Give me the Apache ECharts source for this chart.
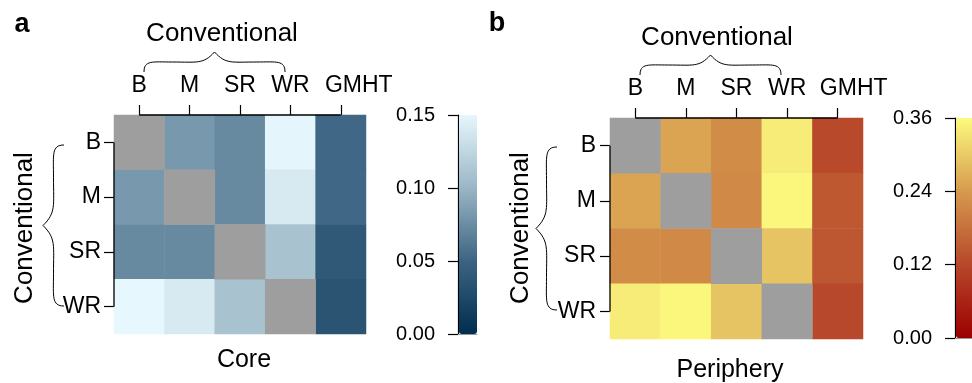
<!DOCTYPE html>
<html>
<head>
<meta charset="utf-8">
<script src="https://cdn.jsdelivr.net/npm/echarts@6/dist/echarts.min.js"></script>
<style>
  html, body { margin: 0; padding: 0; background: #fff; }
  #chart { width: 972px; height: 383px; }
</style>
</head>
<body>
<div id="chart"></div>
<script>
// Pairwise values between groups; null marks the undefined diagonal.
const columns = ['B', 'M', 'SR', 'WR', 'GMHT'];
const rows = ['B', 'M', 'SR', 'WR'];
const coreValues = [
  [null, 0.082, 0.073, 0.149, 0.052],
  [0.082, null, 0.073, 0.140, 0.052],
  [0.073, 0.073, null, 0.109, 0.040],
  [0.150, 0.140, 0.109, null, 0.035]
];
const peripheryValues = [
  [null, 0.252, 0.220, 0.342, 0.125],
  [0.252, null, 0.215, 0.355, 0.144],
  [0.220, 0.215, null, 0.292, 0.143],
  [0.342, 0.355, 0.292, null, 0.122]
];
const coreScale = { min: 0, max: 0.15, step: 0.05 };
const peripheryScale = { min: 0, max: 0.36, step: 0.12 };
const coreColors = ['#002e4e', '#3c6482', '#9ab6c5', '#e6f7fd'];
const peripheryColors = ['#9b0000', '#b7472a', '#d69a4e', '#fdfb7e'];
const naColor = '#9e9e9e';

const FONT = "'Liberation Sans', Arial, Helvetica, sans-serif";

// Panel geometry
const panels = [
  { grid: { left: 114, top: 115, width: 252, height: 219 },
    bar:  { left: 458, top: 115, width: 19, height: 219 },
    topLabelMargin: 18, leftLabelMargin: 13, lastLabelPad: 36 },
  { grid: { left: 610, top: 118, width: 253, height: 221 },
    bar:  { left: 955, top: 118, width: 19, height: 220 },
    topLabelMargin: 18, leftLabelMargin: 14, lastLabelPad: 32 }
];

function splitCells(matrix) {
  const vals = [], na = [];
  matrix.forEach((row, r) => row.forEach((v, c) => {
    if (v === null) na.push([c, r, 0]);
    else vals.push([c, r, v]);
  }));
  return { vals, na };
}

const core = splitCells(coreValues);
const periphery = splitCells(peripheryValues);

const tickStyle = { color: '#000', width: 1.2 };

function heatXAxis(i) {
  // the last (wide) label is nudged right so it clears its neighbour
  const data = columns.map((c, k) => k === columns.length - 1
    ? { value: c, textStyle: { padding: [0, 0, 0, panels[i].lastLabelPad] } }
    : c);
  return {
    type: 'category', data, gridIndex: i, position: 'top',
    axisLine: { show: false },
    axisTick: { show: true, alignWithLabel: true, interval: 0, length: 10, lineStyle: tickStyle },
    axisLabel: { interval: 0, hideOverlap: false, margin: panels[i].topLabelMargin,
                 fontSize: 23, color: '#000', fontFamily: FONT },
    splitLine: { show: false }, splitArea: { show: false }
  };
}
function heatYAxis(i) {
  return {
    type: 'category', data: rows, gridIndex: i, inverse: true,
    axisLine: { show: false },
    axisTick: { show: true, alignWithLabel: true, interval: 0, length: 10, lineStyle: tickStyle },
    axisLabel: { interval: 0, margin: panels[i].leftLabelMargin,
                 fontSize: 23, color: '#000', fontFamily: FONT },
    splitLine: { show: false }, splitArea: { show: false }
  };
}
function barXAxis(i) {
  return {
    type: 'value', gridIndex: i, min: 0, max: 1, position: 'bottom',
    axisLine: { show: true, lineStyle: { color: '#999', width: 1.2 } },
    axisTick: { show: false }, axisLabel: { show: false }, splitLine: { show: false }
  };
}
function barYAxis(i, scale) {
  return {
    type: 'value', gridIndex: i, min: scale.min, max: scale.max, interval: scale.step,
    position: 'left',
    axisLine: { show: true, lineStyle: { color: '#000', width: 1.2 } },
    axisTick: { show: true, length: 10, lineStyle: tickStyle },
    axisLabel: { margin: 23, fontSize: 20, color: '#000', fontFamily: FONT,
                 formatter: v => v.toFixed(2) },
    splitLine: { show: false }
  };
}

const chart = echarts.init(document.getElementById('chart'), null, { renderer: 'canvas' });

chart.setOption({
  animation: false,
  backgroundColor: '#fff',
  grid: [
    Object.assign({ containLabel: false }, panels[0].grid),
    Object.assign({ containLabel: false }, panels[1].grid),
    Object.assign({ containLabel: false }, panels[0].bar),
    Object.assign({ containLabel: false }, panels[1].bar)
  ],
  xAxis: [heatXAxis(0), heatXAxis(1), barXAxis(2), barXAxis(3)],
  yAxis: [heatYAxis(0), heatYAxis(1), barYAxis(2, coreScale), barYAxis(3, peripheryScale)],
  visualMap: [
    { type: 'continuous', seriesIndex: 0, min: coreScale.min, max: coreScale.max,
      inRange: { color: coreColors }, orient: 'vertical', calculable: false,
      left: panels[0].bar.left + 1, top: panels[0].bar.top,
      itemWidth: panels[0].bar.width - 1, itemHeight: panels[0].bar.height,
      padding: 0, hoverLink: false },
    { type: 'continuous', seriesIndex: 2, min: peripheryScale.min, max: peripheryScale.max,
      inRange: { color: peripheryColors }, orient: 'vertical', calculable: false,
      left: panels[1].bar.left + 1, top: panels[1].bar.top,
      itemWidth: panels[1].bar.width - 1, itemHeight: panels[1].bar.height,
      padding: 0, hoverLink: false }
  ],
  series: [
    { type: 'heatmap', xAxisIndex: 0, yAxisIndex: 0, data: core.vals, silent: true },
    { type: 'heatmap', xAxisIndex: 0, yAxisIndex: 0, data: core.na, silent: true,
      itemStyle: { color: naColor } },
    { type: 'heatmap', xAxisIndex: 1, yAxisIndex: 1, data: periphery.vals, silent: true },
    { type: 'heatmap', xAxisIndex: 1, yAxisIndex: 1, data: periphery.na, silent: true,
      itemStyle: { color: naColor } }
  ]
});

const braceStyle = { fill: null, stroke: '#000', lineWidth: 1 };

function bezierSegs(id, segs) {
  return segs.map((s, k) => ({
    type: 'bezierCurve', id: id + '_' + k, silent: true,
    shape: { x1: s[0], y1: s[1], cpx1: s[2], cpy1: s[3], cpx2: s[4], cpy2: s[5], x2: s[6], y2: s[7] },
    style: braceStyle
  }));
}
// Curly brace made of four cubic segments; tip pointing up
function hBrace(id, x0, x1, yb, yt) {
  const w = x1 - x0, h = yb - yt, xm = (x0 + x1) / 2, ys = yt + 0.5 * h;
  return bezierSegs(id, [
    [x0, yb, x0, yb - 0.6 * h, x0 + 0.06 * w, ys, x0 + 0.2 * w, ys],
    [x0 + 0.2 * w, ys, x0 + 0.38 * w, ys, xm - 0.08 * w, yt + 0.62 * h, xm, yt],
    [xm, yt, xm + 0.08 * w, yt + 0.62 * h, x1 - 0.38 * w, ys, x1 - 0.2 * w, ys],
    [x1 - 0.2 * w, ys, x1 - 0.06 * w, ys, x1, yb - 0.6 * h, x1, yb]
  ]);
}
// Same brace turned sideways; tip pointing left
function vBrace(id, y0, y1, xb, xt) {
  const h = y1 - y0, w = xb - xt, ym = (y0 + y1) / 2, xs = xt + 0.5 * w;
  return bezierSegs(id, [
    [xb, y0, xb - 0.6 * w, y0, xs, y0 + 0.06 * h, xs, y0 + 0.2 * h],
    [xs, y0 + 0.2 * h, xs, y0 + 0.38 * h, xt + 0.62 * w, ym - 0.08 * h, xt, ym],
    [xt, ym, xt + 0.62 * w, ym + 0.08 * h, xs, y1 - 0.38 * h, xs, y1 - 0.2 * h],
    [xs, y1 - 0.2 * h, xs, y1 - 0.06 * h, xb - 0.6 * w, y1, xb, y1]
  ]);
}

function text(id, str, x, y, size, extra) {
  const el = {
    type: 'text', id, x, y, silent: true,
    style: Object.assign({ text: str, fontSize: size, fontFamily: FONT, fill: '#000',
                           align: 'center', verticalAlign: 'middle' }, (extra && extra.style) || {})
  };
  if (extra && extra.rotation !== undefined) el.rotation = extra.rotation;
  return el;
}

const graphics = [];
const panelText = [
  { letter: 'a', lx: 22, ly: 25, top: [222, 34], side: [25, 228], bottom: [244, 360], name: 'Core',
    hb: [144, 285, 72, 52], vb: [145, 306, 64, 43] },
  { letter: 'b', lx: 497, ly: 24, top: [717, 38], side: [521, 228], bottom: [730, 370], name: 'Periphery',
    hb: [640, 781, 75, 55], vb: [147, 310, 557, 536] }
];

panelText.forEach((p, i) => {
  // Axis lines spanning first to last category centre, located through the axes
  const first = chart.convertToPixel({ xAxisIndex: i, yAxisIndex: i }, [0, 0]);
  const last = chart.convertToPixel({ xAxisIndex: i, yAxisIndex: i }, [columns.length - 1, rows.length - 1]);
  const g = panels[i].grid;
  graphics.push({ type: 'line', id: 'xline' + i, silent: true, z: 10,
    shape: { x1: first[0], y1: g.top, x2: last[0], y2: g.top },
    style: { stroke: '#000', lineWidth: 1.3 } });
  graphics.push({ type: 'line', id: 'yline' + i, silent: true, z: 10,
    shape: { x1: g.left, y1: first[1], x2: g.left, y2: last[1] },
    style: { stroke: '#000', lineWidth: 1.3 } });

  graphics.push(text('letter' + i, p.letter, p.lx, p.ly, 27, { style: { fontWeight: 'bold' } }));
  graphics.push(text('top' + i, 'Conventional', p.top[0], p.top[1], 26));
  graphics.push(text('side' + i, 'Conventional', p.side[0], p.side[1], 26, { rotation: Math.PI / 2 }));
  graphics.push(text('bottom' + i, p.name, p.bottom[0], p.bottom[1], 25));
  graphics.push(...hBrace('hbrace' + i, p.hb[0], p.hb[1], p.hb[2], p.hb[3]));
  graphics.push(...vBrace('vbrace' + i, p.vb[0], p.vb[1], p.vb[2], p.vb[3]));
});

chart.setOption({ graphic: graphics });
</script>
</body>
</html>
